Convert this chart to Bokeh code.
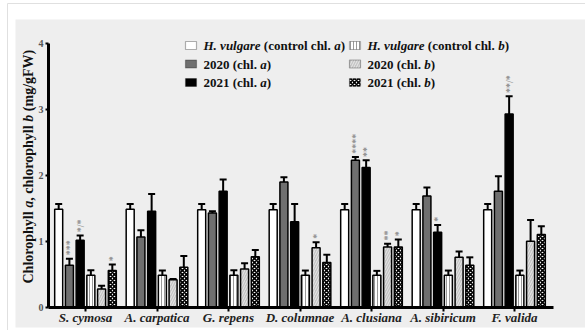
import numpy as np
from bokeh.plotting import figure
from bokeh.models import (ColumnDataSource, Whisker, TeeHead, Label, FixedTicker,
                          BoxAnnotation, Range1d, LinearAxis)
from bokeh.core.properties import value
from bokeh.embed import file_html
from bokeh.resources import INLINE

# ---- data -------------------------------------------------------------
species = ["S. cymosa", "A. carpatica", "G. repens", "D. columnae",
           "A. clusiana", "A. sibiricum", "F. valida"]

ctrl_a = [1.49, 1.49, 1.48, 1.48, 1.48, 1.48, 1.48]
ctrl_a_err = [0.08, 0.08, 0.09, 0.09, 0.09, 0.09, 0.09]
a_2020 = [0.64, 1.07, 1.43, 1.90, 2.23, 1.69, 1.76]
a_2020_err = [0.10, 0.10, 0.03, 0.075, 0.05, 0.13, 0.23]
a_2021 = [1.02, 1.46, 1.76, 1.30, 2.12, 1.14, 2.93]
a_2021_err = [0.07, 0.26, 0.18, 0.27, 0.11, 0.11, 0.27]
ctrl_b = [0.49, 0.49, 0.49, 0.49, 0.49, 0.49, 0.49]
ctrl_b_err = [0.075, 0.07, 0.075, 0.07, 0.065, 0.07, 0.07]
b_2020 = [0.28, 0.42, 0.585, 0.905, 0.915, 0.76, 1.005]
b_2020_err = [0.05, 0.01, 0.085, 0.085, 0.05, 0.09, 0.32]
b_2021 = [0.56, 0.61, 0.77, 0.68, 0.915, 0.64, 1.105]
b_2021_err = [0.09, 0.17, 0.10, 0.12, 0.115, 0.12, 0.125]

# significance marks: (species index, series index, text)
sig_group = [0, 0, 0, 3, 4, 4, 4, 4, 5, 6]
sig_series = [1, 2, 5, 4, 1, 2, 4, 5, 2, 2]
sig_text = ["***", "*/*", "*", "*", "****", "**", "**", "*", "*", "**/*"]

y_ticks = [0, 1, 2, 3, 4]

series_vals = [ctrl_a, a_2020, a_2021, ctrl_b, b_2020, b_2021]
series_errs = [ctrl_a_err, a_2020_err, a_2021_err, ctrl_b_err, b_2020_err, b_2021_err]

# ---- styles -----------------------------------------------------------
FONT = "Liberation Serif"
styles = [
    dict(fill_color="white"),
    dict(fill_color="#6f6f6f"),
    dict(fill_color="black"),
    dict(fill_color="white", hatch_pattern="vertical_line", hatch_color="#9a9a9a",
         hatch_scale=3, hatch_weight=1),
    dict(fill_color="#c4c4c4", hatch_pattern="right_diagonal_line", hatch_color="white",
         hatch_alpha=0.6, hatch_scale=5, hatch_weight=1),
    dict(fill_color="white", hatch_pattern="diagonal_cross", hatch_color="black",
         hatch_scale=4, hatch_weight=1.6),
]

# canvas geometry (pixels)
W, H = 585, 330
AX_LEFT, AX_RIGHT, AX_TOP, AX_BOTTOM = 48, 553, 43, 307
GROUP0, PITCH = 85.0, 71.5          # pixel centre of first group, group spacing
Y_MAX = 4.0


def px_x(px):
    return (px - GROUP0) / PITCH


def px_y(py):
    return (AX_BOTTOM - py) / (AX_BOTTOM - AX_TOP) * Y_MAX


# the frame fills the whole canvas; axes sit at fixed locations inside it
p = figure(width=W, height=H, output_backend="svg", toolbar_location=None,
           x_range=Range1d(px_x(0), px_x(W)), y_range=Range1d(px_y(H), px_y(0)),
           x_axis_location=None, y_axis_location=None,
           min_border=0, min_border_left=0, min_border_right=0,
           min_border_top=0, min_border_bottom=0)
p.border_fill_color = "white"
p.background_fill_color = "white"
p.outline_line_color = None
p.grid.visible = False

# faint outer frame and grey panel behind the chart (drawn first)
p.quad(left=[px_x(7)], right=[px_x(W + 10)], top=[px_y(3)], bottom=[px_y(H + 10)],
       fill_alpha=0, line_color="#e0e0e0", line_width=1)
p.quad(left=[px_x(15)], right=[px_x(W + 10)], top=[px_y(19)], bottom=[px_y(327)],
       fill_color="#eeeeee", line_color=None)

# ---- bars + error bars -----------------------------------------------
BAR_STEP, BAR_W = 0.15, 0.112
for j, (vals, errs) in enumerate(zip(series_vals, series_errs)):
    xs = [i + (j - 2.5) * BAR_STEP for i in range(len(species))]
    src = ColumnDataSource(dict(x=xs, top=vals, hi=[v + e for v, e in zip(vals, errs)]))
    p.vbar(x="x", top="top", bottom=0, width=BAR_W, source=src,
           line_color="black", line_width=1.5, **styles[j])
    p.add_layout(Whisker(source=src, base="x", lower="top", upper="hi",
                         dimension="height", line_color="black", line_width=2,
                         lower_head=None,
                         upper_head=TeeHead(size=7, line_width=2, line_color="black"),
                         level="glyph"))

# ---- significance marks ---------------------------------------------
sx = [g + (s - 2.5) * BAR_STEP for g, s in zip(sig_group, sig_series)]
sy = [series_vals[s][g] + series_errs[s][g] + 0.05 for g, s in zip(sig_group, sig_series)]
p.text(x=sx, y=sy, text=sig_text, angle=np.pi / 2, text_align="left",
       text_baseline="middle", text_font=value(FONT), text_font_size="10px",
       text_font_style="bold", text_color="#8a8a8a")

# ---- axes -------------------------------------------------------------
xaxis = LinearAxis(fixed_location=0, bounds=(px_x(AX_LEFT), px_x(AX_RIGHT)))
xaxis.ticker = FixedTicker(ticks=list(range(len(species))))
xaxis.major_label_overrides = {i: s for i, s in enumerate(species)}
xaxis.major_label_text_font = FONT
xaxis.major_label_text_font_style = "bold italic"
xaxis.major_label_text_font_size = "13px"
xaxis.major_label_text_color = "#222222"
xaxis.major_label_standoff = -2
xaxis.axis_line_width = 3
xaxis.major_tick_line_width = 2
xaxis.major_tick_out = 4
xaxis.major_tick_in = 0
xaxis.minor_tick_line_color = None
p.add_layout(xaxis, "below")

yaxis = LinearAxis(fixed_location=px_x(AX_LEFT), bounds=(0, Y_MAX))
yaxis.ticker = FixedTicker(ticks=y_ticks)
yaxis.major_label_text_font = FONT
yaxis.major_label_text_font_style = "bold"
yaxis.major_label_text_font_size = "10px"
yaxis.major_label_text_color = "#555555"
yaxis.major_label_standoff = 2
yaxis.axis_line_width = 3
yaxis.major_tick_line_width = 2
yaxis.major_tick_out = 3
yaxis.major_tick_in = 0
yaxis.minor_tick_line_color = None
p.add_layout(yaxis, "left")

# ---- rich text helpers (Times-compatible advance widths) ------------
BOLD = {" ": 250, "(": 333, ")": 333, ".": 250, ",": 250, "/": 278, "0": 500,
        "1": 500, "2": 500, "a": 500, "b": 556, "c": 444, "h": 556, "l": 278,
        "o": 500, "n": 556, "t": 333, "r": 444, "p": 556, "y": 500, "m": 833,
        "g": 500, "F": 611, "W": 1000, "C": 722}
BOLD_IT = {" ": 250, ".": 250, "H": 778, "v": 444, "u": 556, "l": 278, "g": 500,
           "a": 500, "r": 389, "e": 444, "b": 500}


def text_width(s, style, size):
    table = BOLD_IT if "italic" in style else BOLD
    return sum(table.get(ch, 500) for ch in s) / 1000.0 * size


def rich_label(parts, x0, y0, size, vertical=False):
    """Place a run of (text, style) pieces starting at pixel (x0, y0)."""
    offset = 0.0
    for txt, style in parts:
        lead = len(txt) - len(txt.lstrip(" "))
        offset += text_width(" " * lead, style, size)
        shown = txt.strip(" ")
        if vertical:
            x, y, ang = px_x(x0), px_y(y0 - offset), np.pi / 2
        else:
            x, y, ang = px_x(x0 + offset), px_y(y0), 0
        p.add_layout(Label(x=x, y=y, text=shown, angle=ang, text_font=FONT,
                           text_font_size=f"{size}px", text_font_style=style,
                           text_color="#111111", text_align="left",
                           text_baseline="middle"))
        offset += text_width(txt.lstrip(" "), style, size)


# y axis title
rich_label([("Chlorophyll ", "bold"), ("a", "bold italic"), (", chlorophyll ", "bold"),
            ("b", "bold italic"), (" (mg/gFW)", "bold")], 28, 283, 14, vertical=True)

# ---- legend ------------------------------------------------------------
legend_rows = [45, 63.5, 82]
legend_cols = [185, 349]
legend_texts = [
    [("H. vulgare", "bold italic"), (" (control chl. ", "bold"), ("a", "bold italic"), (")", "bold")],
    [("2020 (chl. ", "bold"), ("a", "bold italic"), (")", "bold")],
    [("2021 (chl. ", "bold"), ("a", "bold italic"), (")", "bold")],
    [("H. vulgare", "bold italic"), (" (control chl. ", "bold"), ("b", "bold italic"), (")", "bold")],
    [("2020 (chl. ", "bold"), ("b", "bold italic"), (")", "bold")],
    [("2021 (chl. ", "bold"), ("b", "bold italic"), (")", "bold")],
]
for k in range(6):
    cx = legend_cols[k // 3]
    cy = legend_rows[k % 3]
    p.add_layout(BoxAnnotation(left=px_x(cx), right=px_x(cx + 11),
                               top=px_y(cy - 4), bottom=px_y(cy + 4),
                               line_color="black", line_width=1.2, fill_alpha=1,
                               level="overlay", **styles[k]))
    rich_label(legend_texts[k], cx + 18, cy, 13)

open("out.html", "w").write(file_html(p, INLINE))
